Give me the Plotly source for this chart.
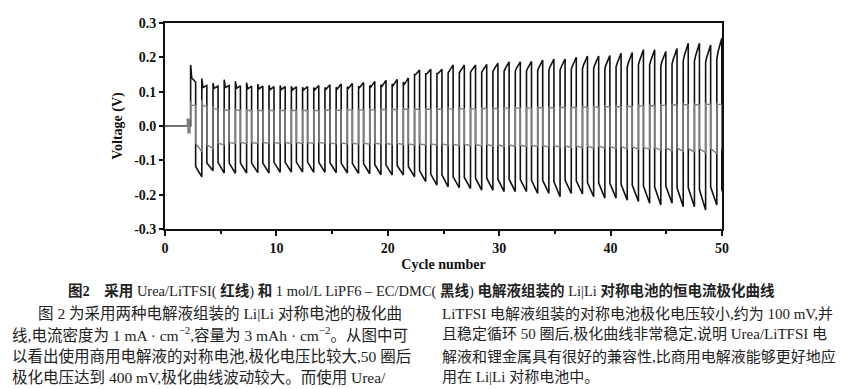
import plotly.graph_objects as go

# ---------------- data ----------------
# cycling timing (x-axis in cycle numbers)
first_rise = 2.3          # cycle number where galvanostatic cycling starts
cycle_period = 1.005      # one charge/discharge cycle
pos_width = 0.45          # length of the positive half cycle

# LiPF6 - EC/DMC (black): value just after rise, after the hook, before drop;
# value just after drop and at end of negative half
blk_top_a = [0.178, 0.138, 0.125, 0.135, 0.130, 0.126, 0.122, 0.119, 0.118, 0.116,
             0.113, 0.112, 0.112, 0.113, 0.114, 0.116, 0.118, 0.120, 0.122, 0.128,
             0.150, 0.152, 0.153, 0.155, 0.155, 0.156, 0.156, 0.158, 0.160, 0.160,
             0.160, 0.162, 0.163, 0.163, 0.165, 0.167, 0.168, 0.168, 0.172, 0.172,
             0.178, 0.178, 0.175, 0.180, 0.190, 0.188, 0.186, 0.195]
blk_top_b = [0.140, 0.112, 0.110, 0.112, 0.110, 0.108, 0.108, 0.106, 0.106, 0.105,
             0.105, 0.106, 0.107, 0.108, 0.110, 0.112, 0.114, 0.116, 0.118, 0.122,
             0.150, 0.152, 0.153, 0.160, 0.160, 0.162, 0.162, 0.165, 0.167, 0.168,
             0.168, 0.170, 0.172, 0.172, 0.175, 0.178, 0.178, 0.178, 0.183, 0.184,
             0.190, 0.190, 0.188, 0.193, 0.205, 0.204, 0.200, 0.215]
blk_top_c = [0.128, 0.118, 0.116, 0.118, 0.117, 0.116, 0.116, 0.115, 0.115, 0.114,
             0.115, 0.118, 0.120, 0.122, 0.124, 0.127, 0.130, 0.133, 0.136, 0.140,
             0.163, 0.165, 0.165, 0.178, 0.178, 0.178, 0.179, 0.183, 0.187, 0.187,
             0.188, 0.192, 0.195, 0.195, 0.200, 0.204, 0.204, 0.205, 0.212, 0.214,
             0.222, 0.222, 0.217, 0.226, 0.241, 0.241, 0.236, 0.256]
blk_bot_a = [-0.118, -0.108, -0.106, -0.108, -0.108, -0.108, -0.108, -0.106, -0.106, -0.105,
             -0.105, -0.106, -0.107, -0.108, -0.109, -0.110, -0.112, -0.113, -0.115, -0.118,
             -0.130, -0.140, -0.142, -0.148, -0.150, -0.152, -0.152, -0.155, -0.155, -0.156,
             -0.158, -0.158, -0.162, -0.158, -0.160, -0.165, -0.166, -0.167, -0.170, -0.172,
             -0.175, -0.178, -0.175, -0.180, -0.180, -0.185, -0.178, -0.185]
blk_bot_c = [-0.148, -0.130, -0.137, -0.138, -0.137, -0.136, -0.137, -0.135, -0.134, -0.134,
             -0.135, -0.135, -0.136, -0.137, -0.138, -0.139, -0.142, -0.143, -0.143, -0.148,
             -0.162, -0.172, -0.177, -0.180, -0.182, -0.187, -0.187, -0.191, -0.191, -0.191,
             -0.196, -0.196, -0.206, -0.196, -0.198, -0.206, -0.210, -0.210, -0.216, -0.220,
             -0.225, -0.230, -0.225, -0.235, -0.235, -0.245, -0.230, -0.245]

# Urea/LiTFSI (grey)
gry_top_a = [0.072, 0.076, 0.056, 0.050, 0.050, 0.049, 0.049, 0.048, 0.048, 0.048,
             0.048, 0.048, 0.049, 0.049, 0.050, 0.050, 0.050, 0.051, 0.051, 0.052,
             0.052, 0.052, 0.052, 0.053, 0.053, 0.053, 0.054, 0.054, 0.055, 0.055,
             0.055, 0.056, 0.056, 0.057, 0.057, 0.058, 0.058, 0.059, 0.059, 0.060,
             0.062, 0.063, 0.064, 0.065, 0.066, 0.066, 0.067, 0.068]
gry_top_c = [0.060, 0.058, 0.050, 0.046, 0.046, 0.045, 0.045, 0.045, 0.045, 0.045,
             0.045, 0.045, 0.046, 0.046, 0.047, 0.047, 0.047, 0.048, 0.048, 0.049,
             0.049, 0.049, 0.049, 0.050, 0.050, 0.050, 0.051, 0.051, 0.052, 0.052,
             0.052, 0.053, 0.053, 0.054, 0.054, 0.055, 0.055, 0.056, 0.056, 0.057,
             0.058, 0.059, 0.060, 0.061, 0.062, 0.062, 0.063, 0.063]
gry_bot_a = [-0.050, -0.055, -0.050, -0.048, -0.048, -0.048, -0.048, -0.048, -0.048, -0.048,
             -0.048, -0.048, -0.049, -0.049, -0.050, -0.050, -0.050, -0.051, -0.051, -0.052,
             -0.052, -0.052, -0.052, -0.053, -0.053, -0.054, -0.054, -0.055, -0.055, -0.056,
             -0.056, -0.057, -0.057, -0.058, -0.058, -0.059, -0.059, -0.060, -0.060, -0.061,
             -0.062, -0.063, -0.064, -0.064, -0.065, -0.066, -0.066, -0.067]
gry_bot_c = [-0.075, -0.065, -0.055, -0.051, -0.051, -0.051, -0.051, -0.051, -0.051, -0.051,
             -0.051, -0.051, -0.052, -0.052, -0.053, -0.053, -0.053, -0.054, -0.054, -0.055,
             -0.055, -0.055, -0.056, -0.057, -0.057, -0.058, -0.058, -0.059, -0.059, -0.060,
             -0.060, -0.061, -0.061, -0.062, -0.063, -0.064, -0.064, -0.065, -0.066, -0.067,
             -0.068, -0.070, -0.072, -0.074, -0.076, -0.078, -0.080, -0.082]

# rest / formation part before cycling
rest_x = [0.0, 2.3]
rest_y = [0.0, 0.0]
form_x = [0.0, 2.0, 2.0, 2.06, 2.06, 2.12, 2.12, 2.18, 2.18, 2.24, 2.24, 2.3]
form_y = [0.0, 0.0, 0.02, 0.02, -0.02, -0.02, 0.02, 0.02, -0.02, -0.02, 0.02, 0.02]

x_ticks = [0, 10, 20, 30, 40, 50]
x_tick_labels = ["0", "10", "20", "30", "40", "50"]
y_ticks = [-0.3, -0.2, -0.1, 0.0, 0.1, 0.2, 0.3]
y_tick_labels = ["-0.3", "-0.2", "-0.1", "0.0", "0.1", "0.2", "0.3"]

caption = ("<b>图2</b>　<b>采用</b> Urea/LiTFSI( <b>红线</b>) <b>和</b> 1 mol/L LiPF6 – EC/DMC( "
           "<b>黑线</b>) <b>电解液组装的</b> Li|Li <b>对称电池的恒电流极化曲线</b>")
body_left = ["图 2 为采用两种电解液组装的 Li|Li 对称电池的极化曲",
             "线,电流密度为 1 mA · cm<sup>−2</sup>,容量为 3 mAh · cm<sup>−2</sup>。从图中可",
             "以看出使用商用电解液的对称电池,极化电压比较大,50 圈后",
             "极化电压达到 400 mV,极化曲线波动较大。而使用 Urea/"]
body_right = ["LiTFSI 电解液组装的对称电池极化电压较小,约为 100 mV,并",
              "且稳定循环 50 圈后,极化曲线非常稳定,说明 Urea/LiTFSI 电",
              "解液和锂金属具有很好的兼容性,比商用电解液能够更好地应",
              "用在 Li|Li 对称电池中。"]

# ---------------- build traces ----------------
bx, by = list(rest_x), list(rest_y)
gx, gy = list(form_x), list(form_y)
for k in range(len(blk_top_a)):
    r = first_rise + k * cycle_period
    d = r + pos_width
    e = r + cycle_period
    bx += [r, r + 0.1, d, d, e]
    by += [blk_top_a[k], blk_top_b[k], blk_top_c[k], blk_bot_a[k], blk_bot_c[k]]
    gx += [r, r + 0.1, d, d, e]
    gy += [gry_top_a[k], gry_top_c[k], gry_top_c[k], gry_bot_a[k], gry_bot_c[k]]

fig = go.Figure()
fig.add_trace(go.Scatter(x=bx, y=by, mode="lines", name="LiPF6 - EC/DMC",
                         line=dict(color="#111111", width=1.6), showlegend=False))
fig.add_trace(go.Scatter(x=gx, y=gy, mode="lines", name="Urea/LiTFSI",
                         line=dict(color="#808080", width=1.4), showlegend=False))

tickfont = dict(family="Liberation Serif", size=14, color="#111111", weight="bold")
fig.update_xaxes(range=[0, 50], tickvals=x_ticks, ticktext=x_tick_labels,
                 ticks="outside", ticklen=5, tickwidth=1.5, tickcolor="#111111",
                 minor=dict(dtick=5, ticks="outside", ticklen=3, tickwidth=1.5, tickcolor="#111111"),
                 showline=True, linewidth=1.8, linecolor="#111111", mirror=True,
                 showgrid=False, zeroline=False, tickfont=tickfont,
                 title=dict(text="Cycle number", standoff=4,
                            font=dict(family="Liberation Serif", size=14, color="#111111", weight="bold")))
fig.update_yaxes(range=[-0.3, 0.3], tickvals=y_ticks, ticktext=y_tick_labels,
                 ticks="outside", ticklen=4, tickwidth=1.5, tickcolor="#111111",
                 showline=True, linewidth=1.8, linecolor="#111111", mirror=True,
                 showgrid=False, zeroline=False, tickfont=tickfont,
                 title=dict(text="Voltage (V)", standoff=8,
                            font=dict(family="Liberation Serif", size=14, color="#111111", weight="bold")))

# page body has an 8px default margin, so the figure is laid out 8px up/left
OFF = 8
W, H = 846, 389
L, R, T, B = 165 - OFF, 846 - (722 - OFF), 23 - OFF, 389 - (229 - OFF)
pw, ph = W - L - R, H - T - B


def px(xp):
    return (xp - OFF - L) / pw


def py(yp):
    return (H - B - (yp - OFF)) / ph


text_font = dict(family="Liberation Serif, Noto Sans CJK SC", size=14.5, color="#222222")
annotations = [dict(text=caption, x=px(421), y=py(291), xref="paper", yref="paper",
                    xanchor="center", yanchor="middle", showarrow=False, font=text_font)]
body_font_l = dict(family="Liberation Serif, Noto Sans CJK SC", size=15.5, color="#222222")
body_font_r = dict(family="Liberation Serif, Noto Sans CJK SC", size=15, color="#222222")
line_y = [313, 334, 356, 377]
for i, t in enumerate(body_left):
    annotations.append(dict(text=t, x=px(36 if i == 0 else 10), y=py(line_y[i]), xref="paper",
                            yref="paper", xanchor="left", yanchor="middle", showarrow=False,
                            font=body_font_l))
for i, t in enumerate(body_right):
    annotations.append(dict(text=t, x=px(440), y=py(line_y[i]), xref="paper",
                            yref="paper", xanchor="left", yanchor="middle", showarrow=False,
                            font=body_font_r))

fig.update_layout(width=W, height=H, margin=dict(l=L, r=R, t=T, b=B, autoexpand=False),
                  paper_bgcolor="white", plot_bgcolor="white", annotations=annotations)

fig.write_html("out.html")
